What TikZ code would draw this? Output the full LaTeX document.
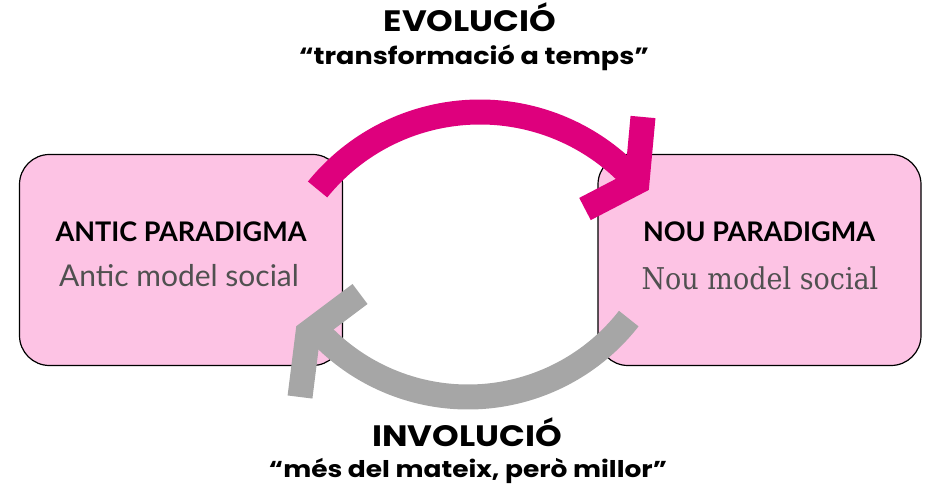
\documentclass[tikz,border=0pt]{standalone}
\usepackage{fontspec}
\setmainfont{Lato}
\newfontfamily\headfont{Poppins}[FakeStretch=1.15]
\newfontfamily\slabfont{DejaVu Serif}[FakeStretch=0.9]
\usepackage{tikz}
\usetikzlibrary{positioning,calc}
\definecolor{boxpink}{RGB}{253,195,228}
\definecolor{evocolor}{RGB}{222,0,125}
\definecolor{invocolor}{RGB}{166,166,166}
\definecolor{subgray}{RGB}{80,80,80}

\begin{document}
\begin{tikzpicture}[
    x=1pt, y=1pt,
    paradigm/.style={draw=black, line width=1.2pt, fill=boxpink, rounded corners=30pt,
        minimum width=323pt, minimum height=211pt},
    boxtitle/.style={anchor=base, font=\fontsize{27}{32}\selectfont\bfseries},
    boxsub/.style={anchor=base, text=subgray, font=\fontsize{30}{36}\selectfont},
    flowtitle/.style={anchor=base, font=\headfont\fontsize{29.5}{34}\selectfont\bfseries},
    flowsub/.style={anchor=base, font=\headfont\fontsize{23.5}{28}\selectfont\bfseries},
    flow/.style={line width=25pt, line cap=butt},
    chevron/.style={line width=25pt, line cap=butt, line join=miter}
]
    \useasboundingbox (0,0) rectangle (926,493);

    % Boxes
    \node[paradigm] (antic) at (181,233) {};
    \node[paradigm] (nou) at (759.5,233) {};

    \node[boxtitle] (anticT) at (181,251) {ANTIC PARADIGMA};
    \node[boxsub] (anticS) at (179,206) {Antic model social};
    \node[boxtitle] (nouT) at (759,251) {NOU PARADIGMA};
    \node[boxsub, font=\slabfont\fontsize{30}{36}\selectfont] (nouS) at (760,203) {Nou model social};

    % Evolució arrow
    \coordinate (evoS) at ($(480,172)+(141:209)$);
    \coordinate (evoTip) at (637,311);
    \coordinate (evoArmA) at (643,376);
    \coordinate (evoArmB) at (585,284);
    \draw[flow, evocolor] (evoS) arc[start angle=141, end angle=40, radius=209];
    \draw[chevron, evocolor] (evoArmA) -- (evoTip) -- (evoArmB);

    % Involució arrow
    \coordinate (invoS) at ($(468,300)+(-38:204)$);
    \coordinate (invoTip) at (308,160);
    \coordinate (invoArmA) at (360,199);
    \coordinate (invoArmB) at (300,96);
    \draw[flow, invocolor] (invoS) arc[start angle=-38, end angle=-140, radius=204];
    \draw[chevron, invocolor] (invoArmA) -- (invoTip) -- (invoArmB);

    % Labels
    \node[flowtitle] (evo) at (470,461) {EVOLUCIÓ};
    \node[flowsub] (evotxt) at (474,428) {“transformació a temps”};
    \node[flowtitle] (invo) at (467,47) {INVOLUCIÓ};
    \node[flowsub, font=\headfont\fontsize{23}{28}\selectfont\bfseries] (invotxt) at (468,16) {“més del mateix, però millor”};
\end{tikzpicture}
\end{document}
